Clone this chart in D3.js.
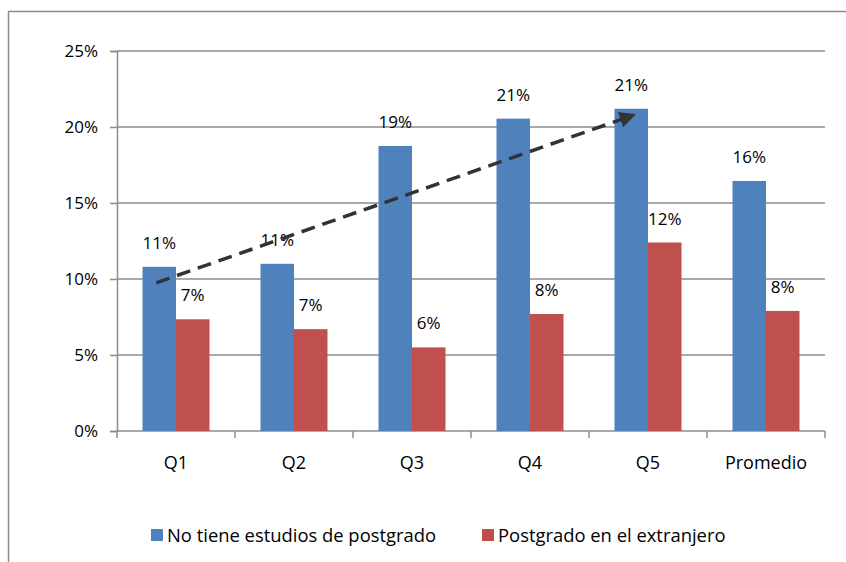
<!DOCTYPE html>
<html>
<head>
<meta charset="utf-8">
<script src="https://cdn.jsdelivr.net/npm/d3@7"></script>
<style>
  body { margin: 0; background: #fff; }
  text { font-family: "Open Sans", sans-serif; fill: #000; }
</style>
</head>
<body>
<svg class="chart"></svg>
<script>
var categories = ["Q1", "Q2", "Q3", "Q4", "Q5", "Promedio"]
var sinPostgrado = [10.8, 11.0, 18.75, 20.55, 21.2, 16.45]
var extranjero = [7.35, 6.7, 5.5, 7.7, 12.4, 7.9]
var seriesNames = ["No tiene estudios de postgrado", "Postgrado en el extranjero"]
var yTicks = [0, 5, 10, 15, 20, 25]
var colors = ["#4F81BD", "#C0504D"]
// trend arrow: from Q1 first bar to Q5 first bar (values in %)
var arrowFrom = {cat: "Q1", value: 9.75}
var arrowTo = {cat: "Q5", value: 20.8}

var W = 846, H = 562
var margin = {top: 51, right: 21, bottom: 131, left: 117},
    width  = W - margin.left - margin.right,
    height = H - margin.top - margin.bottom

var chart = d3.select(".chart").attr("width", W).attr("height", H)

// outer frame, runs off the right and bottom
chart.append("rect")
  .attr("x", 8.5).attr("y", 11.5)
  .attr("width", W).attr("height", H)
  .attr("fill", "none").attr("stroke", "#8c8c8c").attr("stroke-width", 1.5)

var g = chart.append("g").attr("transform", "translate(" + margin.left + "," + margin.top + ")")

var x = d3.scaleBand().domain(categories).range([0, width]).paddingInner(0).paddingOuter(0)
var y = d3.scaleLinear().domain([0, 25]).range([height, 0])
var barW = 33.5

// gridlines
g.selectAll(".grid").data(yTicks.slice(1)).enter().append("line")
  .attr("x1", 0).attr("x2", width)
  .attr("y1", function(d) { return y(d) }).attr("y2", function(d) { return y(d) })
  .attr("stroke", "#8c8c8c").attr("stroke-width", 1.5)

// y axis
var yAxis = d3.axisLeft(y).tickValues(yTicks).tickSize(7).tickPadding(12)
  .tickFormat(function(d) { return d + "%" })
var ya = g.append("g").call(yAxis)
ya.select(".domain").attr("stroke", "#8c8c8c").attr("stroke-width", 1.5)
ya.selectAll(".tick line").attr("stroke", "#8c8c8c").attr("stroke-width", 1.5)
ya.selectAll("text").style("font-size", "17px").attr("fill", "#000")

// x axis with ticks at category boundaries
var xa = g.append("g").attr("transform", "translate(0," + height + ")")
xa.append("line").attr("x1", 0).attr("x2", width)
  .attr("stroke", "#8c8c8c").attr("stroke-width", 1.5)
var bounds = categories.map(function(c) { return x(c) }).concat([width])
xa.selectAll(".xt").data(bounds).enter().append("line")
  .attr("x1", function(d) { return d }).attr("x2", function(d) { return d })
  .attr("y1", 0).attr("y2", 7)
  .attr("stroke", "#8c8c8c").attr("stroke-width", 1.5)
xa.selectAll(".xl").data(categories).enter().append("text")
  .attr("x", function(d) { return x(d) + x.bandwidth() / 2 })
  .attr("y", 38)
  .attr("text-anchor", "middle")
  .style("font-size", "18px")
  .text(function(d) { return d })

// bars
var series = [sinPostgrado, extranjero]
series.forEach(function(vals, s) {
  var grp = g.append("g")
  grp.selectAll("rect").data(categories).enter().append("rect")
    .attr("x", function(d) { return x(d) + x.bandwidth() / 2 - barW + s * barW })
    .attr("y", function(d, i) { return y(vals[i]) })
    .attr("width", barW)
    .attr("height", function(d, i) { return height - y(vals[i]) })
    .attr("fill", colors[s])
  grp.selectAll("text").data(categories).enter().append("text")
    .attr("x", function(d) { return x(d) + x.bandwidth() / 2 - barW / 2 + s * barW })
    .attr("y", function(d, i) { return y(vals[i]) - 18 })
    .attr("text-anchor", "middle")
    .style("font-size", "17px")
    .text(function(d, i) { return Math.round(vals[i]) + "%" })
})

// dashed trend arrow
chart.append("defs").append("marker")
  .attr("id", "arrow").attr("viewBox", "0 0 10 10")
  .attr("refX", 9).attr("refY", 5)
  .attr("markerWidth", 5).attr("markerHeight", 4.6)
  .attr("markerUnits", "strokeWidth")
  .attr("orient", "auto")
  .append("path").attr("d", "M0,0 L10,5 L0,10 z").attr("fill", "#333")

var ax1 = x(arrowFrom.cat) + x.bandwidth() / 2 - barW / 2 - 3
var ax2 = x(arrowTo.cat) + x.bandwidth() / 2 - barW / 2 + 3
g.append("line")
  .attr("x1", ax1).attr("y1", y(arrowFrom.value))
  .attr("x2", ax2).attr("y2", y(arrowTo.value))
  .attr("stroke", "#333").attr("stroke-width", 3.5)
  .attr("stroke-dasharray", "14,8")
  .attr("marker-end", "url(#arrow)")

// legend
var legendX = [151, 482]
var legend = chart.selectAll(".legend").data(seriesNames).enter().append("g")
  .attr("transform", function(d, i) { return "translate(" + legendX[i] + ",529)" })
legend.append("rect").attr("width", 12).attr("height", 12)
  .attr("fill", function(d, i) { return colors[i] })
legend.append("text").attr("x", 16).attr("y", 13)
  .style("font-size", "18.4px")
  .text(function(d) { return d })
</script>
</body>
</html>
